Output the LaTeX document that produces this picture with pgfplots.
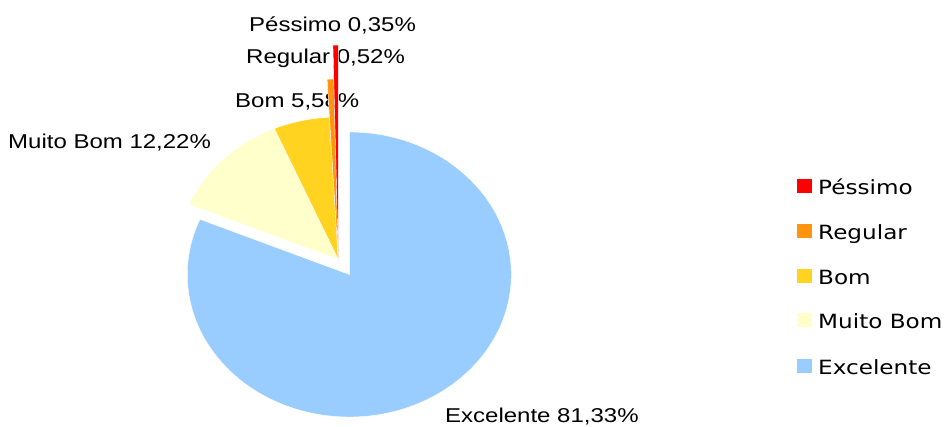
\documentclass[border=0pt]{standalone}
\usepackage{fontspec}
\usepackage{pgfplots}
\usepackage{pgfplotstable}
\pgfplotsset{compat=1.18}
\newfontfamily\labfont[FakeStretch=1.2]{Liberation Sans}
\newfontfamily\legfont[FakeStretch=1.18]{DejaVu Sans}
\definecolor{cPess}{HTML}{FF0000}
\definecolor{cReg}{HTML}{FF950E}
\definecolor{cBom}{HTML}{FFD320}
\definecolor{cMB}{HTML}{FFFFCC}
\definecolor{cExc}{HTML}{99CCFF}

% value = share in percent; cx,cy = slice corner; extent = radial scale; lx,ly = label; legy = legend row baseline
\pgfplotstableread[col sep=comma]{
label,value,col,cx,cy,extent,lx,ly,legy
Excelente,81.33,cExc,349.3,274.5,1.000,445,422,374.3
Muito Bom,12.22,cMB,338.3,259.5,1.000,8,148,328.3
Bom,5.58,cBom,338.3,259.5,1.000,235,107,284.3
Regular,0.52,cReg,338.3,259.5,1.267,246,63,239.3
Péssimo,0.35,cPess,338.3,259.5,1.505,249,31,194.3
}\pietable

\begin{document}
\begin{tikzpicture}
\begin{axis}[
  width=948pt, height=426pt, scale only axis,
  xmin=0, xmax=948, ymin=0, ymax=426, y dir=reverse,
  hide axis, clip=false]
\pgfplotsextra{
  \path (axis cs:0,0) rectangle (axis cs:948,426);
  % labels
  \foreach \i in {0,...,4}{
    \pgfplotstablegetelem{\i}{label}\of\pietable \edef\lab{\pgfplotsretval}
    \pgfplotstablegetelem{\i}{value}\of\pietable \edef\val{\pgfplotsretval}
    \pgfplotstablegetelem{\i}{lx}\of\pietable \edef\lx{\pgfplotsretval}
    \pgfplotstablegetelem{\i}{ly}\of\pietable \edef\ly{\pgfplotsretval}
    \node[anchor=base west, inner sep=0pt, font=\labfont\fontsize{20}{24}\selectfont]
      at (axis cs:\lx,\ly) {\lab\ \pgfmathprintnumber[assume math mode=true, fixed, precision=2, fixed zerofill, use comma]{\val}\%};
  }
  % slices
  \gdef\startang{90}
  \foreach \i in {0,...,4}{
    \pgfplotstablegetelem{\i}{value}\of\pietable \edef\val{\pgfplotsretval}
    \pgfplotstablegetelem{\i}{col}\of\pietable \edef\col{\pgfplotsretval}
    \pgfplotstablegetelem{\i}{cx}\of\pietable \edef\cx{\pgfplotsretval}
    \pgfplotstablegetelem{\i}{cy}\of\pietable \edef\cy{\pgfplotsretval}
    \pgfplotstablegetelem{\i}{extent}\of\pietable \edef\ext{\pgfplotsretval}
    \pgfmathsetmacro\a{\startang}
    \pgfmathsetmacro\b{\startang-3.6*\val}
    \pgfmathsetmacro\rx{162*\ext}
    \pgfmathsetmacro\ry{142.5*\ext}
    \pgfmathsetmacro\dx{\rx*cos(\a)}
    \pgfmathsetmacro\dy{\ry*sin(\a)}
    \fill[\col, draw=white, line width=0.4pt] (axis cs:\cx,\cy) -- ++(\dx pt,\dy pt)
      arc[start angle=\a, end angle=\b, x radius=\rx pt, y radius=\ry pt] -- cycle;
    \xdef\startang{\b}
  }
  % legend
  \foreach \i in {0,...,4}{
    \pgfplotstablegetelem{\i}{label}\of\pietable \edef\lab{\pgfplotsretval}
    \pgfplotstablegetelem{\i}{col}\of\pietable \edef\col{\pgfplotsretval}
    \pgfplotstablegetelem{\i}{legy}\of\pietable \edef\ly{\pgfplotsretval}
    \pgfmathsetmacro\ya{\ly-15}
    \pgfmathsetmacro\yb{\ly-1.6}
    \fill[\col] (axis cs:797,\ya) rectangle (axis cs:811.7,\yb);
    \node[anchor=base west, inner sep=0pt, font=\legfont\fontsize{19.6}{23}\selectfont]
      at (axis cs:818,\ly) {\lab};
  }
}
\end{axis}
\end{tikzpicture}
\end{document}
